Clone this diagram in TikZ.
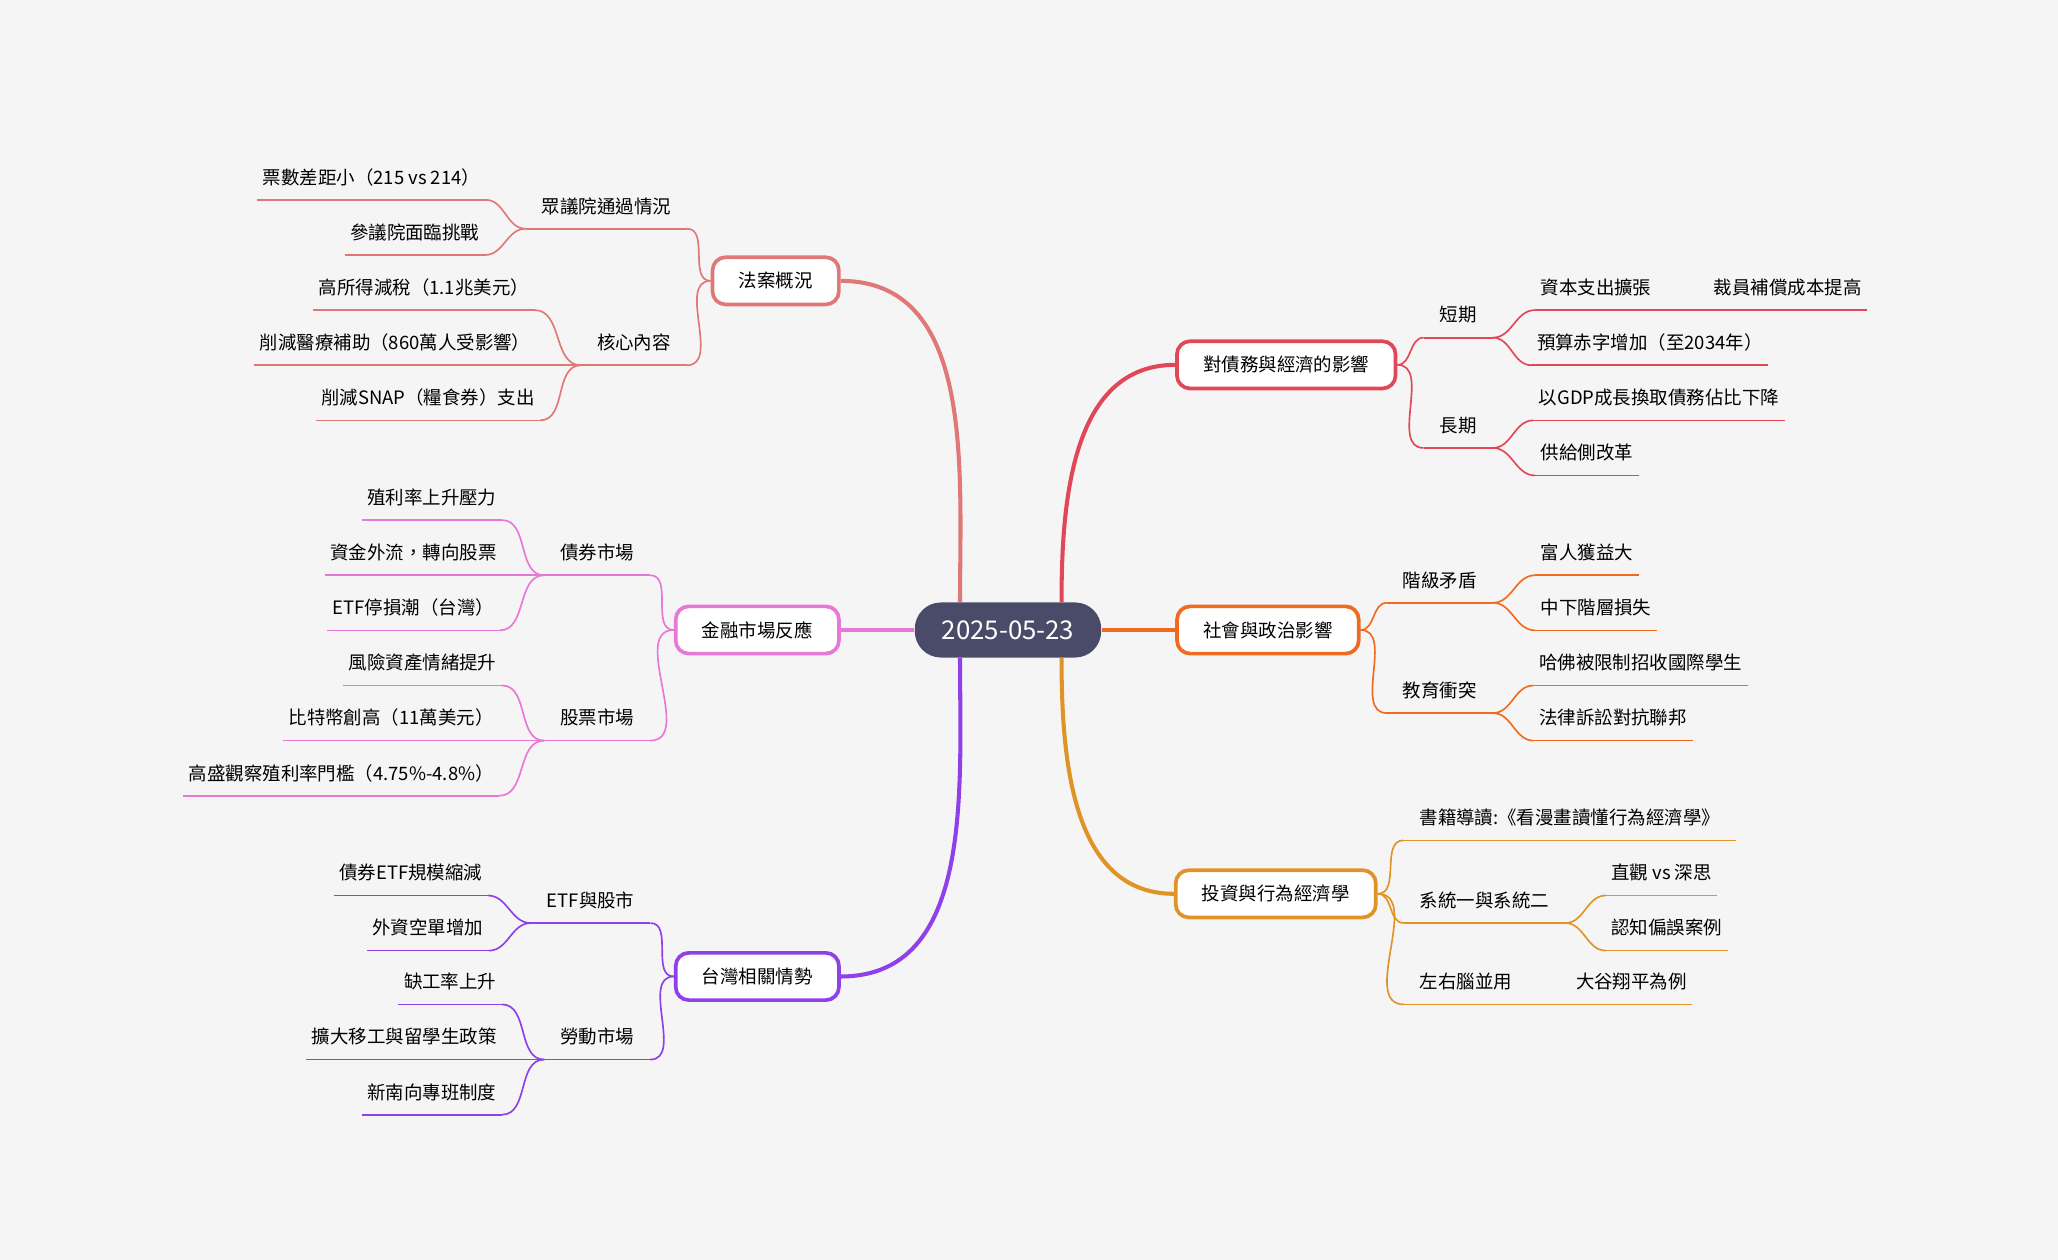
\documentclass[tikz,border=0pt]{standalone}
\usepackage{fontspec}
\setmainfont{Noto Sans CJK TC}
\definecolor{bgcol}{HTML}{F5F5F5}
\definecolor{rootcol}{HTML}{4A4B68}
\definecolor{billcol}{HTML}{E07878}
\definecolor{fincol}{HTML}{E878D8}
\definecolor{twcol}{HTML}{9040E8}
\definecolor{debtcol}{HTML}{E04858}
\definecolor{soccol}{HTML}{F06A20}
\definecolor{invcol}{HTML}{E09428}
\tikzset{
  root/.style={fill=rootcol, text=white, rounded corners=0.5cm, minimum width=3.55cm,
    minimum height=1.05cm, font=\fontsize{14}{16}\selectfont},
  topic/.style={draw=#1, fill=white, line width=2pt, rounded corners=0.25cm,
    minimum height=0.9cm, inner xsep=0.5cm, font=\fontsize{10}{12}\selectfont},
  sub/.style={minimum height=0.85cm, inner xsep=0.3cm, inner ysep=0pt, font=\fontsize{10}{12}\selectfont},
  leaf/.style={minimum height=0.85cm, inner xsep=0.1cm, inner ysep=0pt, font=\fontsize{10}{12}\selectfont},
  link/.style={draw=#1, line width=0.9pt},
  trunk/.style={draw=#1, line width=2.2pt},
}
\begin{document}
\begin{tikzpicture}[x=0.025cm, y=0.025cm]
  % background
  \fill[bgcol] (0,0) rectangle (1568,960);
  \useasboundingbox (0,0) rectangle (1568,960);
  % root and topics
  \node[root] (root) at (768,480) {2025-05-23};
  \node[topic=billcol] (bill) at (591,746) {法案概況};
  \node[topic=fincol]  (fin)  at (577,480) {金融市場反應};
  \node[topic=twcol]   (tw)   at (577,216) {台灣相關情勢};
  \node[topic=debtcol] (debt) at (980,682) {對債務與經濟的影響};
  \node[topic=soccol]  (soc)  at (966,480) {社會與政治影響};
  \node[topic=invcol]  (inv)  at (972,279) {投資與行為經濟學};
  % trunks
  \draw[trunk=billcol] ([xshift=-26]root.north) to[out=90,in=0] (bill.east);
  \draw[trunk=fincol]  (root.west) -- (fin.east);
  \draw[trunk=twcol]   ([xshift=-26]root.south) to[out=-90,in=0] (tw.east);
  \draw[trunk=debtcol] ([xshift=29]root.north) to[out=90,in=180] (debt.west);
  \draw[trunk=soccol]  (root.east) -- (soc.west);
  \draw[trunk=invcol]  ([xshift=29]root.south) to[out=-90,in=180] (inv.west);
  % left: bill
  \node[sub]  (house) at (462,803) {眾議院通過情況};
  \node[sub]  (core)  at (483,699) {核心內容};
  \node[leaf] (votes) at (283,825) {票數差距小（215 vs 214）};
  \node[leaf] (senate) at (316,783) {參議院面臨挑戰};
  \node[leaf] (tax)   at (323,741) {高所得減稅（1.1兆美元）};
  \node[leaf] (med)   at (301,699) {削減醫療補助（860萬人受影響）};
  \node[leaf] (snap)  at (326,657) {削減SNAP（糧食券）支出};
  % left: finance
  \node[sub]  (bond)  at (455,539) {債券市場};
  \node[sub]  (stock) at (455,413) {股票市場};
  \node[leaf] (yield) at (329,581) {殖利率上升壓力};
  \node[leaf] (flow)  at (315,539) {資金外流，轉向股票};
  \node[leaf] (etfstop) at (315,497) {ETF停損潮（台灣）};
  \node[leaf] (risk)  at (322,455) {風險資產情緒提升};
  \node[leaf] (btc)   at (298,413) {比特幣創高（11萬美元）};
  \node[leaf] (gs)    at (260,371) {高盛觀察殖利率門檻（4.75\%-4.8\%）};
  % left: taiwan
  \node[sub]  (etf)   at (450,274) {ETF與股市};
  \node[sub]  (labor) at (455,170) {勞動市場};
  \node[leaf] (bondetf) at (313,295) {債券ETF規模縮減};
  \node[leaf] (short) at (326,253) {外資空單增加};
  \node[leaf] (gap)   at (343,212) {缺工率上升};
  \node[leaf] (migr)  at (308,170) {擴大移工與留學生政策};
  \node[leaf] (south) at (329,128) {新南向專班制度};
  % right: debt
  \node[sub]  (near)  at (1111,720) {短期};
  \node[sub]  (far)   at (1111,636) {長期};
  \node[leaf] (capex) at (1216,741) {資本支出擴張};
  \node[leaf] (layoff) at (1362,741) {裁員補償成本提高};
  \node[leaf] (deficit) at (1257,699) {預算赤字增加（至2034年）};
  \node[leaf] (gdp)   at (1264,657) {以GDP成長換取債務佔比下降};
  \node[leaf] (supply) at (1209,615) {供給側改革};
  % right: society
  \node[sub]  (class) at (1097,518) {階級矛盾};
  \node[sub]  (edu)   at (1097,434) {教育衝突};
  \node[leaf] (rich)  at (1209,539) {富人獲益大};
  \node[leaf] (mid)   at (1216,497) {中下階層損失};
  \node[leaf] (harv)  at (1250,455) {哈佛被限制招收國際學生};
  \node[leaf] (suit)  at (1229,413) {法律訴訟對抗聯邦};
  % right: investing
  \node[sub]  (book)  at (1196,337) {書籍導讀:《看漫畫讀懂行為經濟學》};
  \node[sub]  (sys)   at (1131,274) {系統一與系統二};
  \node[sub]  (brain) at (1117,212) {左右腦並用};
  \node[leaf] (intu)  at (1266,295) {直觀 vs 深思};
  \node[leaf] (bias)  at (1270,253) {認知偏誤案例};
  \node[leaf] (ohtani) at (1243,212) {大谷翔平為例};
  % underlines
  \foreach \n/\c in {house/billcol,core/billcol,votes/billcol,senate/billcol,tax/billcol,med/billcol,snap/billcol,
      bond/fincol,stock/fincol,yield/fincol,flow/fincol,etfstop/fincol,risk/fincol,btc/fincol,gs/fincol,
      etf/twcol,labor/twcol,bondetf/twcol,short/twcol,gap/twcol,migr/twcol,south/twcol,
      near/debtcol,far/debtcol,capex/debtcol,layoff/debtcol,deficit/debtcol,gdp/debtcol,supply/debtcol,
      class/soccol,edu/soccol,rich/soccol,mid/soccol,harv/soccol,suit/soccol,
      book/invcol,sys/invcol,brain/invcol,intu/invcol,bias/invcol,ohtani/invcol}
    \draw[link=\c] (\n.south west) -- (\n.south east);
  % left connectors
  \foreach \p/\n/\c in {bill/house/billcol,bill/core/billcol,fin/bond/fincol,fin/stock/fincol,tw/etf/twcol,tw/labor/twcol}
    \draw[link=\c] (\p.west) to[out=180,in=0] (\n.south east);
  \foreach \p/\n/\c in {house/votes/billcol,house/senate/billcol,core/tax/billcol,core/med/billcol,core/snap/billcol,
      bond/yield/fincol,bond/flow/fincol,bond/etfstop/fincol,stock/risk/fincol,stock/btc/fincol,stock/gs/fincol,
      etf/bondetf/twcol,etf/short/twcol,labor/gap/twcol,labor/migr/twcol,labor/south/twcol}
    \draw[link=\c] (\p.south west) to[out=180,in=0] (\n.south east);
  % right connectors
  \foreach \p/\n/\c in {debt/near/debtcol,debt/far/debtcol,soc/class/soccol,soc/edu/soccol,
      inv/book/invcol,inv/sys/invcol,inv/brain/invcol}
    \draw[link=\c] (\p.east) to[out=0,in=180] (\n.south west);
  \foreach \p/\n/\c in {near/capex/debtcol,capex/layoff/debtcol,near/deficit/debtcol,far/gdp/debtcol,far/supply/debtcol,
      class/rich/soccol,class/mid/soccol,edu/harv/soccol,edu/suit/soccol,
      sys/intu/invcol,sys/bias/invcol,brain/ohtani/invcol}
    \draw[link=\c] (\p.south east) to[out=0,in=180] (\n.south west);
\end{tikzpicture}
\end{document}
